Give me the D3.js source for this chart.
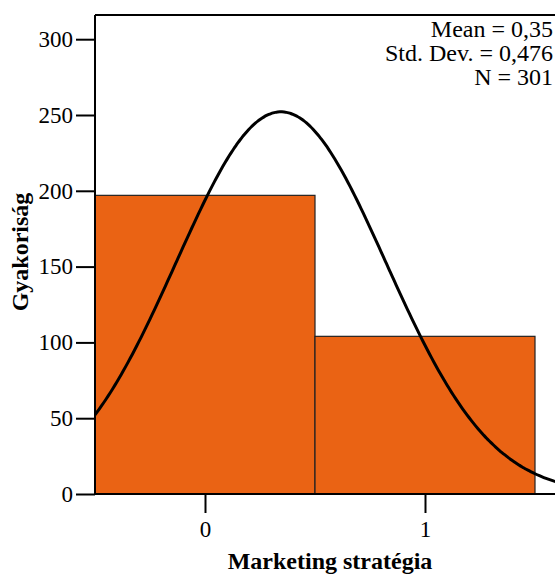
<!DOCTYPE html>
<html><head><meta charset="utf-8">
<script src="https://cdn.jsdelivr.net/npm/d3@7"></script>
<style>html,body{margin:0;padding:0;background:#fff;overflow:hidden}</style>
</head><body>
<svg id="c" width="555" height="575"></svg>
<script>
const categories = [0, 1];
const counts = [197, 104];
const yTicks = [0, 50, 100, 150, 200, 250, 300];
const xTicks = [0, 1];
const statLabels = ["Mean = 0,35", "Std. Dev. = 0,476", "N = 301"];
const xTitle = "Marketing stratégia";
const yTitle = "Gyakoriság";

const svg = d3.select("#c");
const font = "'Liberation Serif','Times New Roman',serif";
const x = d3.scaleLinear().domain([-0.5, 1.5]).range([95, 535]);
const y = d3.scaleLinear().domain([0, 300]).range([494, 39.2]);
const plotRight = 555, plotTop = 15;

// stats for normal curve
const N = d3.sum(counts);
const mean = d3.sum(categories.map((c, i) => c * counts[i])) / N;
const variance = d3.sum(categories.map((c, i) => counts[i] * (c - mean) ** 2)) / (N - 1);
const sd = Math.sqrt(variance);

svg.append("defs").append("clipPath").attr("id", "clip")
  .append("rect").attr("x", 95).attr("y", plotTop).attr("width", plotRight - 95).attr("height", 494 - plotTop);

// bars
svg.selectAll("rect.bar").data(categories).enter().append("rect")
  .attr("class", "bar")
  .attr("x", d => x(d - 0.5))
  .attr("width", d => x(d + 0.5) - x(d - 0.5))
  .attr("y", (d, i) => y(counts[i]))
  .attr("height", (d, i) => y(0) - y(counts[i]))
  .attr("fill", "#EA6314")
  .attr("stroke", "#222")
  .attr("stroke-width", 1.2);

// normal curve
const pts = d3.range(-0.5, 1.7, 0.01).map(v => [v, N * 1 * Math.exp(-0.5 * ((v - mean) / sd) ** 2) / (sd * Math.sqrt(2 * Math.PI))]);
svg.append("path").datum(pts)
  .attr("clip-path", "url(#clip)")
  .attr("fill", "none").attr("stroke", "#000").attr("stroke-width", 3)
  .attr("d", d3.line().x(d => x(d[0])).y(d => y(d[1])).curve(d3.curveBasis));

// frame lines
svg.append("line").attr("x1", 95).attr("x2", plotRight).attr("y1", plotTop).attr("y2", plotTop).attr("stroke", "#000").attr("stroke-width", 2);

// y axis
const yAxis = svg.append("g").attr("transform", "translate(95,0)")
  .call(d3.axisLeft(y).tickValues(yTicks).tickSize(19).tickSizeOuter(0).tickPadding(3));
yAxis.select(".domain").remove();
yAxis.append("line").attr("x1", 0).attr("x2", 0).attr("y1", plotTop).attr("y2", 494).attr("stroke", "#000").attr("stroke-width", 2);
yAxis.selectAll(".tick line").attr("stroke-width", 2);
yAxis.selectAll("text").attr("font-family", font).attr("font-size", 23).attr("fill", "#000");

// x axis
const xAxis = svg.append("g").attr("transform", "translate(0,494)")
  .call(d3.axisBottom(x).tickValues(xTicks).tickSize(19).tickSizeOuter(0).tickPadding(8).tickFormat(d3.format("d")));
xAxis.select(".domain").remove();
xAxis.append("line").attr("x1", 95).attr("x2", plotRight).attr("y1", 0).attr("y2", 0).attr("stroke", "#000").attr("stroke-width", 2);
xAxis.selectAll(".tick line").attr("stroke-width", 2);
xAxis.selectAll("text").attr("font-family", font).attr("font-size", 23).attr("fill", "#000");

// stats text
svg.selectAll("text.stat").data(statLabels).enter().append("text")
  .attr("class", "stat")
  .attr("x", 553).attr("y", (d, i) => 37 + i * 24)
  .attr("text-anchor", "end")
  .attr("font-family", font).attr("font-size", 24).attr("fill", "#000")
  .text(d => d);

// titles
svg.append("text").attr("x", 330).attr("y", 569).attr("text-anchor", "middle")
  .attr("font-family", font).attr("font-size", 24).attr("font-weight", "bold").text(xTitle);
svg.append("text").attr("transform", "translate(28,252) rotate(-90)").attr("text-anchor", "middle")
  .attr("font-family", font).attr("font-size", 24).attr("font-weight", "bold").text(yTitle);
</script>
</body></html>
